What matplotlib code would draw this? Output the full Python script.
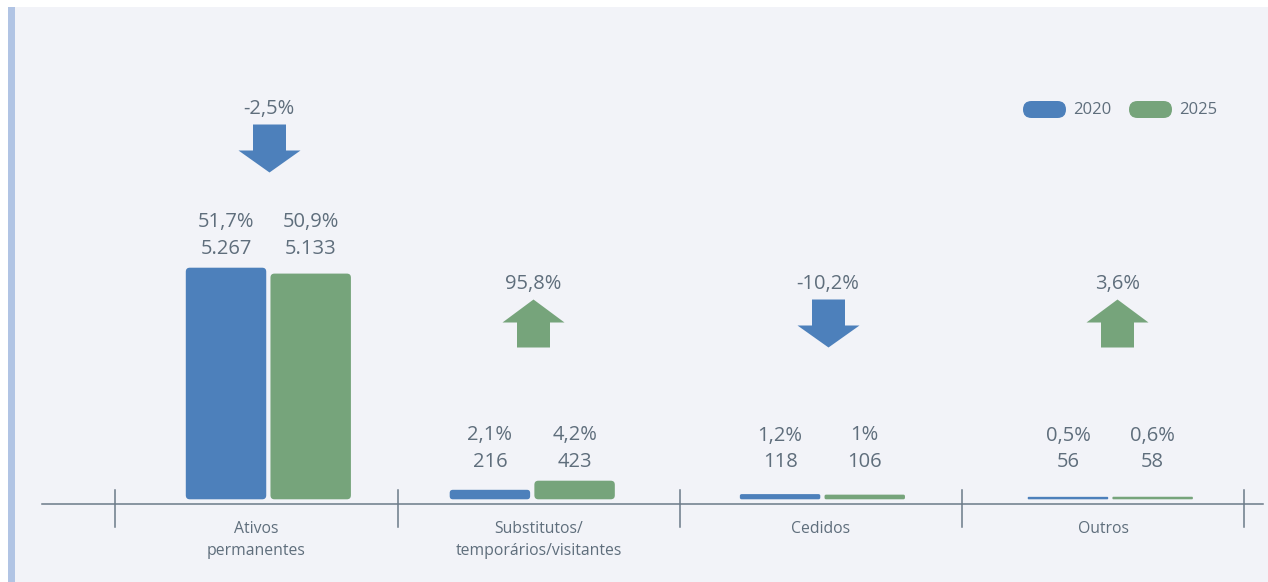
import matplotlib.pyplot as plt
from matplotlib.patches import FancyBboxPatch, Rectangle
from matplotlib.path import Path

plt.rcParams['font.family'] = ['Open Sans', 'DejaVu Sans']

# data
categories = ['Ativos\npermanentes', 'Substitutos/\ntemporários/visitantes', 'Cedidos', 'Outros']
years = ['2020', '2025']
values_2020 = [5267, 216, 118, 56]
values_2025 = [5133, 423, 106, 58]
share_2020 = ['51,7%', '2,1%', '1,2%', '0,5%']
share_2025 = ['50,9%', '4,2%', '1%', '0,6%']
count_2020 = ['5.267', '216', '118', '56']
count_2025 = ['5.133', '423', '106', '58']
change = ['-2,5%', '95,8%', '-10,2%', '3,6%']

# small horizontal shifts of each bar group / arrow from the category centre (layout)
group_shift = [0.042, -0.023, 0.005, 0.025]
arrow_shift = [0.044, -0.021, 0.024, 0.049]

blue = '#4d80bb'
green = '#76a47b'
text_col = '#5f6e7c'
line_col = '#6b7a88'
panel_col = '#f2f3f8'

W, H = 1268, 582
fig = plt.figure(figsize=(W / 100, H / 100), dpi=100)
fig.patch.set_facecolor('white')
# panel + left strip (behind the axes)
fig.patches.append(Rectangle((15 / W, 0), 1 - 15 / W, (H - 7) / H, transform=fig.transFigure,
                             facecolor=panel_col, edgecolor='none', zorder=-10))
fig.patches.append(Rectangle((8 / W, 0), 7 / W, (H - 7) / H, transform=fig.transFigure,
                             facecolor='#b1c4e4', edgecolor='none', zorder=-10))

ax = fig.add_axes([0, 0, 1, 1])
ax.set_facecolor('none')
ax.axis('off')

# scales: one category = 282.25 px, y zero at 499.3 px from top
px_per_unit = 231.6 / 5267
PX = 1 / px_per_unit          # data units per pixel (y)
XPX = 1 / 282.25              # data units per pixel (x)
zero_px = 499.3
ax.set_ylim(-(H - zero_px) * PX, zero_px * PX)
ax.set_xlim(-256.5 * XPX, (W - 256.5) * XPX)

x = list(range(len(categories)))
gx = [i + s for i, s in zip(x, group_shift)]
off, bw = 0.15, 0.285
b1 = ax.bar([g - off for g in gx], values_2020, bw, color=blue)
b2 = ax.bar([g + off for g in gx], values_2025, bw, color=green)

# rounded bars
asp = PX / XPX
for bars, col in ((b1, blue), (b2, green)):
    for b in bars:
        b.set_visible(False)
        h_px = b.get_height() / PX
        r_px = min(4, h_px / 3)
        ax.add_patch(FancyBboxPatch((b.get_x(), b.get_y()), b.get_width(), b.get_height(),
                                    boxstyle=f'round,pad=0,rounding_size={r_px * XPX}',
                                    mutation_aspect=asp, facecolor=col, edgecolor='none',
                                    zorder=3))

# axis line and separators
axis_y = -4.7 * PX
ax.plot([(42 - 256.5) * XPX, (1263 - 256.5) * XPX], [axis_y, axis_y], color=line_col, lw=1.1, zorder=2)
for s in [i - 0.5 for i in x] + [x[-1] + 0.5]:
    ax.plot([s, s], [9.3 * PX, -27.7 * PX], color=line_col, lw=1.1, zorder=2)

# category labels
for i, c in enumerate(categories):
    ax.text(i, -21.5 * PX, c, ha='center', va='top', fontsize=11.3, color=text_col, linespacing=1.5)

# value labels
for i, g in enumerate(gx):
    top_px = max(values_2020[i], values_2025[i]) / PX
    row = max(top_px + 14, 32.3) * PX
    for dx, sh, ct in ((-off, share_2020[i], count_2020[i]), (off, share_2025[i], count_2025[i])):
        ax.text(g + dx, row, ct, ha='center', va='baseline', fontsize=14.5, color=text_col)
        ax.text(g + dx, row + 26.5 * PX, sh, ha='center', va='baseline', fontsize=14.5, color=text_col)

# change arrows
down = Path([(-16.5, 24), (16.5, 24), (16.5, -2), (31, -2), (0, -24), (-31, -2), (-16.5, -2), (-16.5, 24)])
up = Path([(-16.5, -24), (16.5, -24), (16.5, 1), (31, 1), (0, 24), (-31, 1), (-16.5, 1), (-16.5, -24)])
for i in x:
    top_px = max(values_2020[i], values_2025[i]) / PX
    cy = max(top_px + 120, 176)
    is_down = change[i].startswith('-')
    ax.plot(i + arrow_shift[i], cy * PX, marker=down if is_down else up, markersize=62 * 0.72,
            color=blue if is_down else green, markeredgewidth=0, zorder=4)
    ax.text(i + arrow_shift[i], (cy + 34) * PX, change[i], ha='center', va='baseline',
            fontsize=14.5, color=text_col)

# legend
for lx, col, lab in ((1023, blue, years[0]), (1129, green, years[1])):
    fig.patches.append(FancyBboxPatch((lx / 100, (H - 118) / 100), 0.43, 0.17,
                                      boxstyle='round,pad=0,rounding_size=0.085',
                                      transform=fig.dpi_scale_trans, facecolor=col, edgecolor='none'))
    fig.text((lx + 50) / W, 1 - 109.5 / H, lab, ha='left', va='center', fontsize=12, color=text_col)

fig.savefig('out.png', dpi=100)
